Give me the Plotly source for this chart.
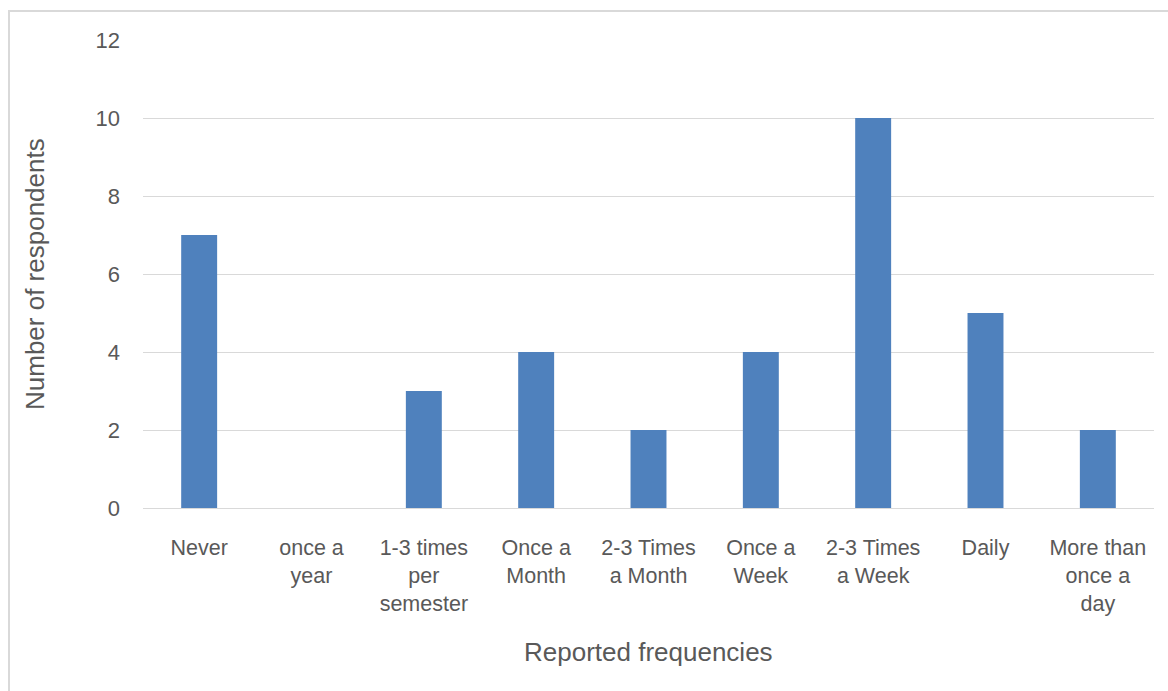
import plotly.graph_objects as go

# Survey results: how often respondents reported the activity
categories = [
    "Never", "once a year", "1-3 times per semester", "Once a Month",
    "2-3 Times a Month", "Once a Week", "2-3 Times a Week", "Daily",
    "More than once a day",
]
tick_labels = [
    "Never", "once a<br>year", "1-3 times<br>per<br>semester", "Once a<br>Month",
    "2-3 Times<br>a Month", "Once a<br>Week", "2-3 Times<br>a Week", "Daily",
    "More than<br>once a<br>day",
]
respondents = [7, 0, 3, 4, 2, 4, 10, 5, 2]
y_ticks = [0, 2, 4, 6, 8, 10, 12]

W, H = 1168, 691
L, R, T, B = 143, 14, 40, 183
plot_w, plot_h = W - L - R, H - T - B

def px_x(x):
    return (x - L) / plot_w

def px_y(y):
    return (H - B - y) / plot_h

TEXT = "#595959"
FONT = "Liberation Sans, Arial, sans-serif"

fig = go.Figure(
    go.Bar(
        x=categories,
        y=respondents,
        marker=dict(color="#4F81BD", line=dict(width=0)),
        hovertemplate="%{x}: %{y}<extra></extra>",
    )
)

fig.update_layout(
    width=W,
    height=H,
    margin=dict(l=L, r=R, t=T, b=B),
    paper_bgcolor="white",
    plot_bgcolor="white",
    bargap=0.68,
    showlegend=False,
    font=dict(family=FONT, color=TEXT),
    xaxis=dict(
        tickmode="array",
        tickvals=categories,
        ticktext=tick_labels,
        tickangle=0,
        tickfont=dict(size=21.5, color=TEXT),
        showgrid=False,
        showline=True,
        linecolor="#d9d9d9",
        linewidth=1,
        ticks="",
        ticklabelstandoff=20,
    ),
    yaxis=dict(
        range=[0, 12],
        tickmode="array",
        tickvals=y_ticks,
        tickfont=dict(size=22, color=TEXT),
        showgrid=True,
        gridcolor="#d9d9d9",
        gridwidth=1,
        zeroline=False,
        showline=False,
        ticks="",
        ticklabelstandoff=22,
    ),
    annotations=[
        dict(
            text="Number of respondents",
            xref="paper", yref="paper",
            x=px_x(35), y=px_y(274),
            xanchor="center", yanchor="middle",
            textangle=-90,
            showarrow=False,
            font=dict(size=26, color=TEXT, family=FONT),
        ),
        dict(
            text="Reported frequencies",
            xref="paper", yref="paper",
            x=0.5, y=px_y(652),
            xanchor="center", yanchor="middle",
            showarrow=False,
            font=dict(size=26, color=TEXT, family=FONT),
        ),
    ],
    shapes=[
        dict(
            type="rect",
            xref="paper", yref="paper",
            x0=px_x(9), x1=px_x(W + 10),
            y0=px_y(H + 10), y1=px_y(11),
            line=dict(color="#d9d9d9", width=2),
            fillcolor="rgba(0,0,0,0)",
            layer="below",
        )
    ],
)

fig.write_html("out.html")
